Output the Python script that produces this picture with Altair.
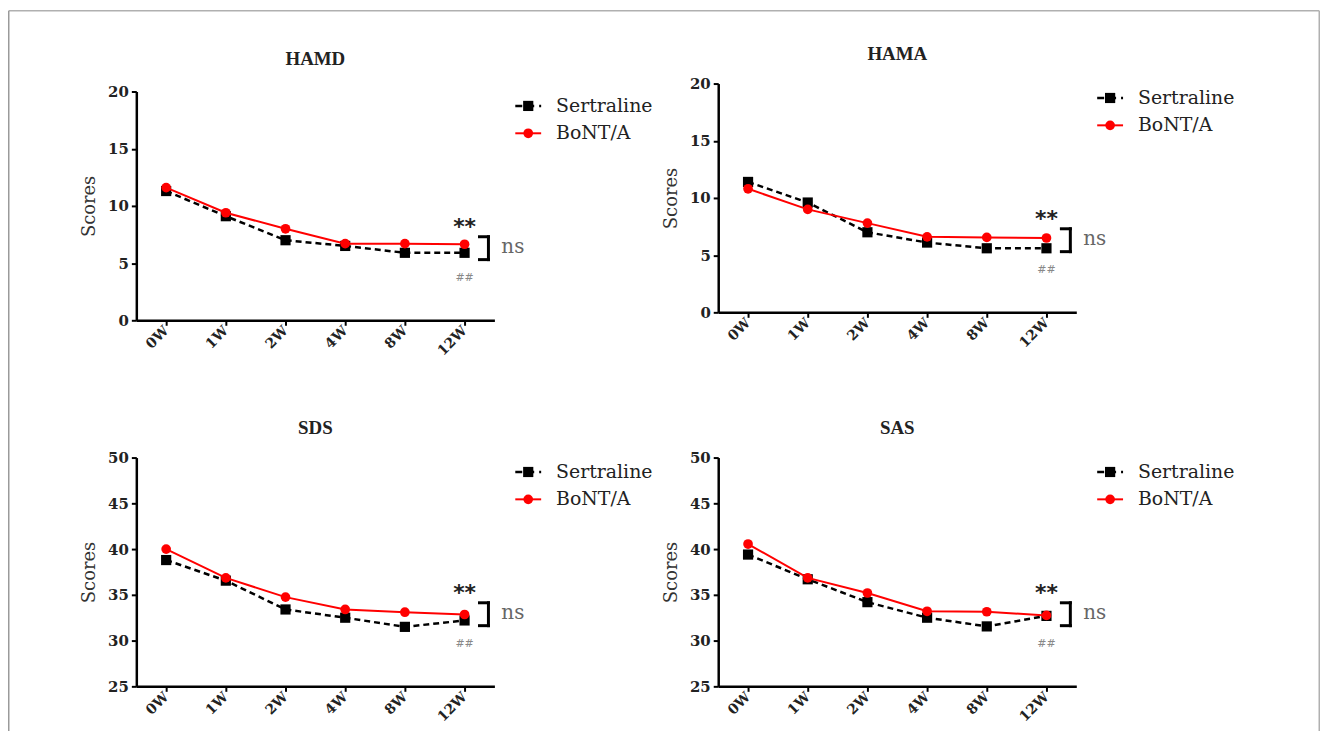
import altair as alt
import pandas as pd

# ---------------- data ----------------
weeks = ["0W", "1W", "2W", "4W", "8W", "12W"]
series_names = ["Sertraline", "BoNT/A"]

hamd_sert = [11.3, 9.1, 7.0, 6.5, 5.9, 5.9]
hamd_bont = [11.6, 9.4, 8.0, 6.7, 6.7, 6.65]
hama_sert = [11.4, 9.6, 7.0, 6.1, 5.6, 5.6]
hama_bont = [10.8, 9.0, 7.8, 6.6, 6.55, 6.5]
sds_sert = [38.8, 36.55, 33.4, 32.5, 31.5, 32.2]
sds_bont = [40.0, 36.85, 34.75, 33.4, 33.1, 32.85]
sas_sert = [39.4, 36.7, 34.2, 32.5, 31.55, 32.7]
sas_bont = [40.55, 36.85, 35.2, 33.2, 33.15, 32.75]

ticks_low = [0, 5, 10, 15, 20]
ticks_high = [25, 30, 35, 40, 45, 50]

W = 360
H = 230
SERIF = "DejaVu Serif"
TITLE_FONT = "Liberation Serif"


def panel(title, sert, bont, ydomain, yticks, shift, title_offset, frame=False):
    height = H + shift
    df = pd.DataFrame({
        "week": weeks * 2,
        "series": [series_names[0]] * len(weeks) + [series_names[1]] * len(weeks),
        "score": sert + bont,
    })
    xenc = alt.X("week:O", sort=weeks,
                 scale=alt.Scale(type="point", domain=weeks, padding=0.5),
                 axis=alt.Axis(labelAngle=315, labelAlign="right", labelBaseline="middle",
                               labelPadding=3, labelFontSize=14, tickSize=5),
                 title=None)
    yenc = alt.Y("score:Q",
                 scale=alt.Scale(domain=ydomain, range=[height, shift], nice=False, zero=False),
                 axis=alt.Axis(values=yticks, labelPadding=3, labelFontSize=15, tickSize=5,
                               titleX=-47, titleY=shift + H / 2, titleAngle=270,
                               titleBaseline="middle", titleAlign="center"),
                 title="Scores")
    base = alt.Chart(df).encode(x=xenc, y=yenc)
    sert_line = base.transform_filter(alt.datum.series == "Sertraline").mark_line(
        color="black", strokeDash=[6, 4], strokeWidth=2.5)
    sert_pts = base.transform_filter(alt.datum.series == "Sertraline").mark_point(
        shape="square", filled=True, size=105, color="black", opacity=1)
    bont_line = base.transform_filter(alt.datum.series == "BoNT/A").mark_line(
        color="#ff0000", strokeWidth=2)
    bont_pts = base.transform_filter(alt.datum.series == "BoNT/A").mark_point(
        shape="circle", filled=True, size=95, color="#ff0000", opacity=1)

    last = pd.DataFrame({"week": [weeks[-1]]})
    xl = alt.X("week:O", sort=weeks)
    stars = alt.Chart(last).mark_text(text="**", font="DejaVu Sans", fontSize=22,
                                      fontWeight="bold", color="#222", baseline="alphabetic",
                                      align="center").encode(x=xl, y=alt.value(shift + 143))
    hashes = alt.Chart(last).mark_text(text="##", font="DejaVu Sans", fontSize=11,
                                       color="#888", baseline="middle",
                                       align="center").encode(x=xl, y=alt.value(shift + 187))
    br_v = alt.Chart(last).mark_rule(color="black", strokeWidth=3, xOffset=24,
                                     strokeCap="square").encode(
        x=xl, y=alt.value(shift + 146), y2=alt.value(shift + 169))
    br_t = alt.Chart(last).mark_rule(color="black", strokeWidth=3, xOffset=15, x2Offset=24,
                                     strokeCap="square").encode(
        x=xl, x2=alt.X2("week"), y=alt.value(shift + 146))
    br_b = alt.Chart(last).mark_rule(color="black", strokeWidth=3, xOffset=15, x2Offset=24,
                                     strokeCap="square").encode(
        x=xl, x2=alt.X2("week"), y=alt.value(shift + 169))
    ns = alt.Chart(last).mark_text(text="ns", font=SERIF, fontSize=20, color="#666",
                                   align="left", baseline="alphabetic", xOffset=37).encode(
        x=xl, y=alt.value(shift + 162))

    # panel title drawn as a text mark (keeps it independent of the frame bounds)
    ttl = alt.Chart(pd.DataFrame({"t": [title]})).mark_text(
        font=TITLE_FONT, fontSize=19, fontWeight="bold", color="#222", align="center",
        baseline="alphabetic").encode(text="t:N", x=alt.value(W / 2),
                                      y=alt.value(shift - title_offset))

    # legend (drawn by hand)
    ly1 = shift + 14.5
    ly2 = shift + 42
    leg_s_line = alt.Chart(pd.DataFrame({"s": [series_names[0]]})).mark_rule(
        color="black", strokeWidth=2.5, strokeDash=[7, 5]).encode(
        x=alt.value(381), x2=alt.value(407), y=alt.value(ly1))
    leg_s_pt = alt.Chart(pd.DataFrame({"s": [series_names[0]]})).mark_point(
        shape="square", filled=True, size=105, color="black", opacity=1).encode(
        x=alt.value(394), y=alt.value(ly1))
    leg_b_line = alt.Chart(pd.DataFrame({"s": [series_names[1]]})).mark_rule(
        color="#ff0000", strokeWidth=2).encode(
        x=alt.value(381), x2=alt.value(407), y=alt.value(ly2))
    leg_b_pt = alt.Chart(pd.DataFrame({"s": [series_names[1]]})).mark_point(
        shape="circle", filled=True, size=95, color="#ff0000", opacity=1).encode(
        x=alt.value(394), y=alt.value(ly2))
    leg_s_txt = alt.Chart(pd.DataFrame({"s": [series_names[0]]})).mark_text(
        font=SERIF, fontSize=19, color="#222", align="left", baseline="middle").encode(
        text="s:N", x=alt.value(422), y=alt.value(ly1))
    leg_b_txt = alt.Chart(pd.DataFrame({"s": [series_names[1]]})).mark_text(
        font=SERIF, fontSize=19, color="#222", align="left", baseline="middle").encode(
        text="s:N", x=alt.value(422), y=alt.value(ly2))

    layers = [sert_line, sert_pts, bont_line, bont_pts, stars, hashes, br_v, br_t, br_b, ns,
              ttl, leg_s_line, leg_s_pt, leg_b_line, leg_b_pt, leg_s_txt, leg_b_txt]

    if frame:
        fdf = pd.DataFrame({"f": [1]})
        fl, fr, ft, fb = -128.25, 1189.25, -73.25, 660
        top = alt.Chart(fdf).mark_rule(color="#b0b0b0", strokeWidth=1.5).encode(
            x=alt.value(fl), x2=alt.value(fr), y=alt.value(ft))
        left = alt.Chart(fdf).mark_rule(color="#9a9a9a", strokeWidth=1.5).encode(
            x=alt.value(fl), y=alt.value(ft), y2=alt.value(fb))
        right = alt.Chart(fdf).mark_rule(color="#b0b0b0", strokeWidth=1.5).encode(
            x=alt.value(fr), y=alt.value(ft), y2=alt.value(fb))
        layers = [top, left, right] + layers

    return alt.layer(*layers).properties(width=W, height=height)


p1 = panel("HAMD", hamd_sert, hamd_bont, [0, 20], ticks_low, 8, 27, frame=True)
p2 = panel("HAMA", hama_sert, hama_bont, [0, 20], ticks_low, 0, 24)
p3 = panel("SDS", sds_sert, sds_bont, [25, 50], ticks_high, 0, 24)
p4 = panel("SAS", sas_sert, sas_bont, [25, 50], ticks_high, 0, 24)

chart = alt.concat(p1, p2, p3, p4, columns=2, spacing={"row": 138, "column": 225},
                   bounds="flush").properties(padding=0).configure_view(
    stroke=None).configure_axis(
    domainColor="black", domainWidth=2.5, tickColor="black", tickWidth=2,
    labelFont=SERIF, labelFontWeight="bold", labelColor="#222", grid=False,
    titleFont=SERIF, titleFontWeight="normal", titleFontSize=18, titleColor="#333")

chart.save("out.html", embed_options={"renderer": "svg", "actions": False})
